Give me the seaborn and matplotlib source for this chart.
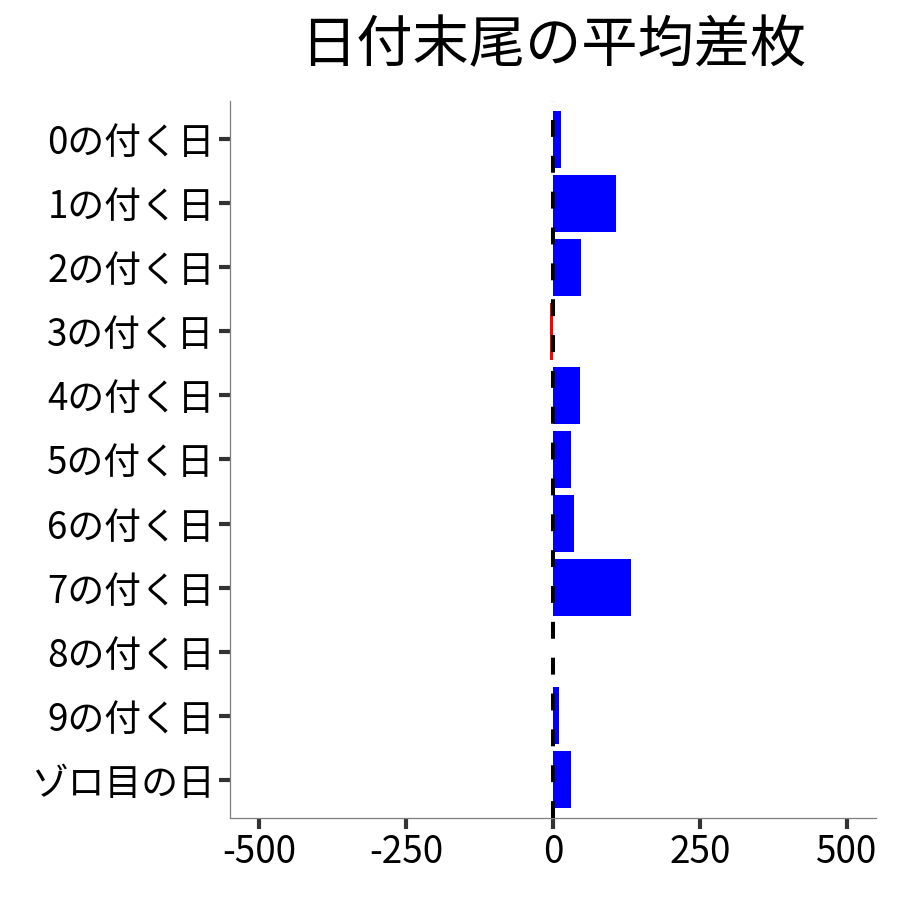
import matplotlib
matplotlib.use("Agg")
import matplotlib.pyplot as plt
import seaborn as sns
import pandas as pd

# data
days = ["0の付く日", "1の付く日", "2の付く日", "3の付く日", "4の付く日",
        "5の付く日", "6の付く日", "7の付く日", "8の付く日", "9の付く日", "ゾロ目の日"]
avg_diff = [14, 108, 48, -5, 46, 31, 36, 132, 0, 10, 31]
xticks = [-500, -250, 0, 250, 500]

df = pd.DataFrame({"day": days, "diff": avg_diff})
bar_colors = ["#FF0000" if v < 0 else "#0000FF" for v in avg_diff]

sns.set_style("white")
plt.rcParams["font.family"] = ["Noto Sans CJK JP", "DejaVu Sans"]
plt.rcParams["text.color"] = "black"

fig, ax = plt.subplots(figsize=(9, 9), dpi=100)
fig.subplots_adjust(left=0.2556, right=0.9733, top=0.8878, bottom=0.0911)

sns.barplot(data=df, x="diff", y="day", hue="day", palette=bar_colors,
            width=0.9, dodge=False, legend=False, saturation=1,
            linewidth=0, ax=ax)

# zero reference line
ax.axvline(0, color="black", lw=2.9, ls=(0, (4.2, 4.7)), zorder=5)

ax.set_xlim(-550, 550)
ax.set_ylim(10.6, -0.6)
ax.set_xticks(xticks)
ax.set_xticklabels([str(t) for t in xticks])

ax.set_xlabel("")
ax.set_ylabel("")
ax.set_title("日付末尾の平均差枚", fontsize=40.5, pad=28, color="black")

for s in ["top", "right"]:
    ax.spines[s].set_visible(False)
for s in ["left", "bottom"]:
    ax.spines[s].set_color("#7f7f7f")
    ax.spines[s].set_linewidth(0.9)

ax.tick_params(axis="both", which="major", length=8, width=3, color="#333333",
               labelsize=26.5, labelcolor="black", direction="out",
               bottom=True, left=True)
ax.tick_params(axis="y", pad=3)
ax.tick_params(axis="x", pad=3)
ax.grid(False)

plt.savefig("out.png", dpi=100)
